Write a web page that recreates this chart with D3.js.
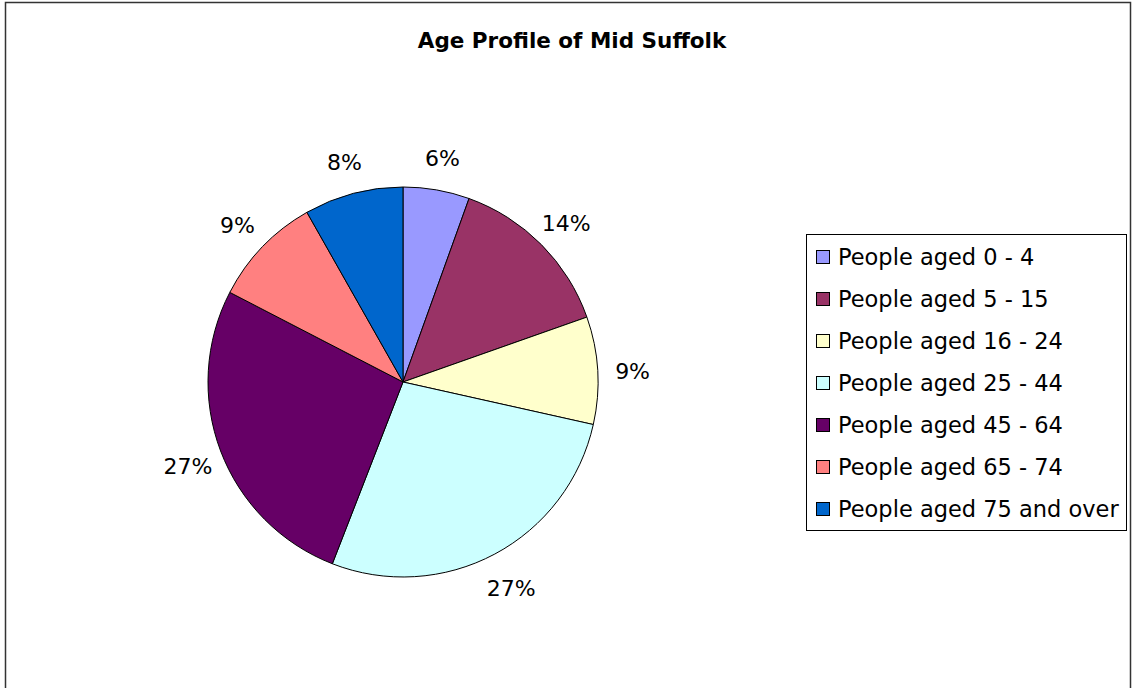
<!DOCTYPE html>
<html>
<head>
<meta charset="utf-8">
<script src="https://cdn.jsdelivr.net/npm/d3@7"></script>
<style>
  body { margin: 0; background: #fff; }
  text { font-family: Tahoma, "DejaVu Sans", Verdana, sans-serif; }
</style>
</head>
<body>
<div id="chart"></div>
<script>
var categories = ["People aged 0 - 4", "People aged 5 - 15", "People aged 16 - 24", "People aged 25 - 44",
                  "People aged 45 - 64", "People aged 65 - 74", "People aged 75 and over"];
var values = [5.5, 14.1, 8.9, 27.4, 26.7, 9.2, 8.2];
var labels = ["6%", "14%", "9%", "27%", "27%", "9%", "8%"];
var colors = ["#9999ff", "#993366", "#ffffcc", "#ccffff", "#660066", "#ff8080", "#0066cc"];

var width = 1132, height = 688;
var svg = d3.select("#chart").append("svg")
    .attr("width", width)
    .attr("height", height);

// outer chart border
svg.append("rect")
    .attr("x", 5.5).attr("y", 2.5)
    .attr("width", 1125).attr("height", 700)
    .attr("fill", "#fff")
    .attr("stroke", "#333").attr("stroke-width", 1.5);

svg.append("text")
    .attr("x", 572).attr("y", 48)
    .attr("text-anchor", "middle")
    .attr("font-size", 21.5)
    .attr("font-weight", "bold")
    .text("Age Profile of Mid Suffolk");

var cx = 403, cy = 382, r = 195;
var g = svg.append("g").attr("transform", "translate(" + cx + "," + cy + ")");

var pie = d3.pie().sort(null).value(d => d);
var arcs = pie(values);
var arc = d3.arc().innerRadius(0).outerRadius(r);
var labelArc = d3.arc().innerRadius(230).outerRadius(230);

g.selectAll("path")
    .data(arcs)
    .join("path")
    .attr("d", arc)
    .attr("fill", (d, i) => colors[i])
    .attr("stroke", "#000")
    .attr("stroke-width", 1);

g.selectAll("text.lbl")
    .data(arcs)
    .join("text")
    .attr("class", "lbl")
    .attr("x", d => labelArc.centroid(d)[0])
    .attr("y", d => labelArc.centroid(d)[1] + 3)
    .attr("dy", "0.35em")
    .attr("text-anchor", "middle")
    .attr("font-size", 22)
    .text((d, i) => labels[i]);

// legend
var legend = svg.append("g");
legend.append("rect")
    .attr("x", 806.5).attr("y", 234.5)
    .attr("width", 320).attr("height", 296)
    .attr("fill", "#fff")
    .attr("stroke", "#000").attr("stroke-width", 1);

var rowY = d3.scaleLinear().domain([0, 1]).range([257, 299]);
var items = legend.selectAll("g.item")
    .data(categories)
    .join("g")
    .attr("class", "item")
    .attr("transform", (d, i) => "translate(0," + rowY(i) + ")");

items.append("rect")
    .attr("x", 816.5).attr("y", -6.5)
    .attr("width", 13).attr("height", 13)
    .attr("fill", (d, i) => colors[i])
    .attr("stroke", "#000").attr("stroke-width", 1);

items.append("text")
    .attr("x", 838).attr("dy", "0.35em")
    .attr("font-size", 22.5)
    .text(d => d);
</script>
</body>
</html>
